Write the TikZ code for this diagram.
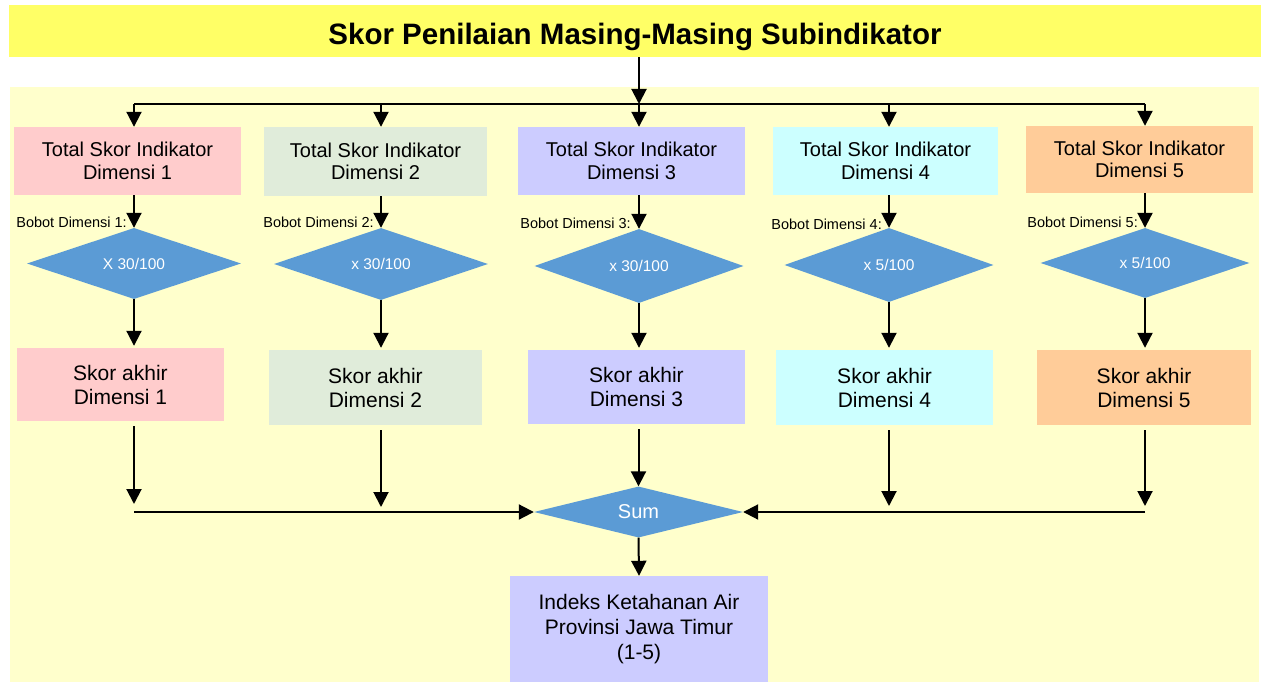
\documentclass[tikz,border=0pt]{standalone}
\usepackage{fontspec}
\setmainfont{Liberation Sans}
\usetikzlibrary{shapes.geometric,arrows.meta}
\definecolor{titleyel}{HTML}{FFFF66}
\definecolor{bgyel}{HTML}{FFFFCC}
\definecolor{cpink}{HTML}{FFCCCC}
\definecolor{cgreen}{HTML}{E0ECDA}
\definecolor{clav}{HTML}{CCCCFF}
\definecolor{ccyan}{HTML}{CCFFFF}
\definecolor{corange}{HTML}{FFCC99}
\definecolor{cdia}{HTML}{5B9BD5}
\begin{document}
\begin{tikzpicture}[x=1pt,y=-1pt,
  box/.style={rectangle, inner sep=0pt, align=center, font=\fontsize{20}{22.5}\selectfont},
  skbox/.style={rectangle, inner sep=0pt, align=center, font=\fontsize{21}{24}\selectfont},
  dia/.style={diamond, aspect=3, inner sep=0pt, fill=cdia, text=white, font=\fontsize{15.5}{18}\selectfont},
  bob/.style={anchor=east, inner sep=0pt, font=\fontsize{14.5}{16}\selectfont},
  conn/.style={line width=2pt, draw=black},
  arr/.style={conn, -{Triangle[width=15pt,length=15pt]}}
]
\useasboundingbox (0,0) rectangle (1261,682);
\fill[bgyel] (10,87) rectangle (1259,682);
\node[rectangle, fill=titleyel, inner sep=0pt, minimum width=1252, minimum height=52,
  text height=28pt, text depth=0pt, font=\fontsize{29.5}{32}\selectfont\bfseries] (title) at (635,31)
  {Skor Penilaian Masing-Masing Subindikator};

% top row boxes
\node[box, fill=cpink,   minimum width=227, minimum height=68] (b1) at (127.5,161) {Total Skor Indikator\\Dimensi 1};
\node[box, fill=cgreen,  minimum width=223, minimum height=69] (b2) at (375.5,161.5) {Total Skor Indikator\\Dimensi 2};
\node[box, fill=clav,    minimum width=227, minimum height=68] (b3) at (631.5,161) {Total Skor Indikator\\Dimensi 3};
\node[box, fill=ccyan,   minimum width=225, minimum height=68] (b4) at (885.5,161) {Total Skor Indikator\\Dimensi 4};
\node[box, fill=corange, minimum width=227, minimum height=67] (b5) at (1139.5,159.5) {Total Skor Indikator\\Dimensi 5};

% diamonds
\node[dia, minimum width=214, minimum height=71] (d1) at (134,263.5) {X 30/100};
\node[dia, minimum width=214, minimum height=72] (d2) at (381,264) {x 30/100};
\node[dia, minimum width=209, minimum height=74] (d3) at (639,266) {x 30/100};
\node[dia, minimum width=209, minimum height=74] (d4) at (889,265) {x 5/100};
\node[dia, minimum width=209, minimum height=70] (d5) at (1145,263) {x 5/100};

% bobot labels
\node[bob] (bob1) at (127,222) {Bobot Dimensi 1:};
\node[bob] (bob2) at (374,222) {Bobot Dimensi 2:};
\node[bob] (bob3) at (631,223) {Bobot Dimensi 3:};
\node[bob] (bob4) at (882,224) {Bobot Dimensi 4:};
\node[bob] (bob5) at (1138,222) {Bobot Dimensi 5:};

% skor akhir boxes
\node[skbox, fill=cpink,   minimum width=207, minimum height=73] (s1) at (120.5,384.5) {Skor akhir\\Dimensi 1};
\node[skbox, fill=cgreen,  minimum width=213, minimum height=75] (s2) at (375.5,387.5) {Skor akhir\\Dimensi 2};
\node[skbox, fill=clav,    minimum width=217, minimum height=74] (s3) at (636.5,387) {Skor akhir\\Dimensi 3};
\node[skbox, fill=ccyan,   minimum width=217, minimum height=75] (s4) at (884.5,387.5) {Skor akhir\\Dimensi 4};
\node[skbox, fill=corange, minimum width=214, minimum height=75] (s5) at (1144,387.5) {Skor akhir\\Dimensi 5};

% sum and result
\node[diamond, aspect=4, inner sep=0pt, fill=cdia, text=white, font=\fontsize{20}{22}\selectfont,
  minimum width=209, minimum height=51] (sum) at (638.5,512) {Sum};
\node[skbox, fill=clav, minimum width=258, minimum height=106, font=\fontsize{21}{25}\selectfont] (res) at (639,629)
  {Indeks Ketahanan Air\\Provinsi Jawa Timur\\(1-5)};

% coordinates
\coordinate (t1) at (134,104);
\coordinate (t2) at (381,104);
\coordinate (t3) at (639,104);
\coordinate (t4) at (889,104);
\coordinate (t5) at (1145,104);
\coordinate (e1) at (134,504);
\coordinate (e2) at (381,507);
\coordinate (e4) at (889,506);
\coordinate (e5) at (1145,506);
\coordinate (hl) at (134,512);
\coordinate (hr) at (1145,512);

% connectors
\draw[arr] (title.south -| t3) -- (t3);
\draw[conn] (t1) -- (t5);
\foreach \i in {1,...,5} {
  \draw[arr] (t\i) -- (t\i |- b\i.north);
  \draw[arr] (b\i.south -| d\i.north) -- (d\i.north);
  \draw[arr, shorten >=2pt] (d\i.south) -- (d\i.south |- s\i.north);
}
\foreach \i in {1,2,4,5} {
  \draw[arr, shorten <=5pt] (s\i.south -| e\i) -- (e\i);
}
\draw[arr, shorten <=5pt] (s3.south -| sum.north) -- (sum.north);
\draw[arr] (hl) -- (sum.west);
\draw[arr] (hr) -- (sum.east);
\draw[arr] (sum.south) -- (res.north);
\end{tikzpicture}
\end{document}
